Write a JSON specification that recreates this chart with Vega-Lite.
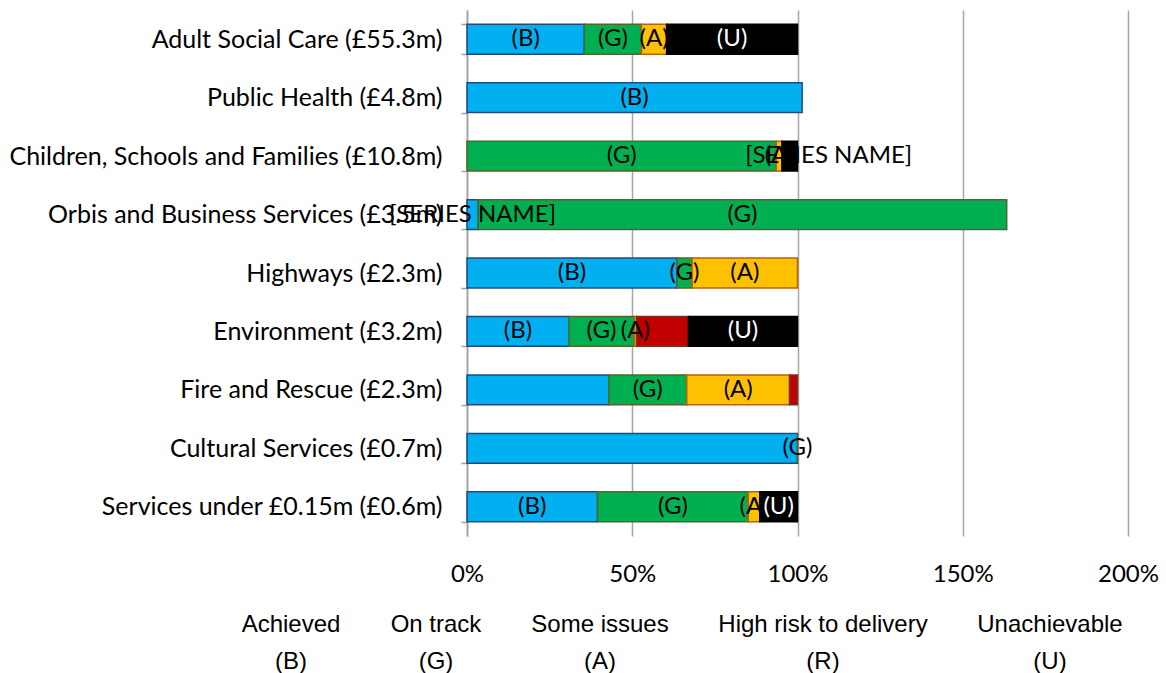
{
  "$schema": "https://vega.github.io/schema/vega-lite/v6.json",
  "autosize": {"type": "none"},
  "padding": {"left": 467, "top": 10, "right": 38, "bottom": 137},
  "width": 661,
  "height": 526,
  "background": "white",
  "config": {"view": {"stroke": null}},
  "data": {"values": [
    {"service": "Adult Social Care (£55.3m)", "status": "B", "pct": 35.5, "label": "(B)"},
    {"service": "Adult Social Care (£55.3m)", "status": "G", "pct": 17.3, "label": "(G)"},
    {"service": "Adult Social Care (£55.3m)", "status": "A", "pct": 7.6, "label": "(A)"},
    {"service": "Adult Social Care (£55.3m)", "status": "U", "pct": 39.6, "label": "(U)"},
    {"service": "Public Health (£4.8m)", "status": "B", "pct": 101.4, "label": "(B)"},
    {"service": "Children, Schools and Families (£10.8m)", "status": "G", "pct": 93.6, "label": "(G)"},
    {"service": "Children, Schools and Families (£10.8m)", "status": "A", "pct": 1.7, "label": "(A)"},
    {"service": "Children, Schools and Families (£10.8m)", "status": "U", "pct": 4.7, "label": "[SERIES NAME]"},
    {"service": "Orbis and Business Services (£3.5m)", "status": "B", "pct": 3.4, "label": "[SERIES NAME]"},
    {"service": "Orbis and Business Services (£3.5m)", "status": "G", "pct": 159.9, "label": "(G)"},
    {"service": "Highways (£2.3m)", "status": "B", "pct": 63.5, "label": "(B)"},
    {"service": "Highways (£2.3m)", "status": "G", "pct": 4.6, "label": "(G)"},
    {"service": "Highways (£2.3m)", "status": "A", "pct": 31.9, "label": "(A)"},
    {"service": "Environment (£3.2m)", "status": "B", "pct": 30.8, "label": "(B)"},
    {"service": "Environment (£3.2m)", "status": "G", "pct": 19.8, "label": "(G)"},
    {"service": "Environment (£3.2m)", "status": "A", "pct": 0.7, "label": "(A)"},
    {"service": "Environment (£3.2m)", "status": "R", "pct": 15.7, "label": ""},
    {"service": "Environment (£3.2m)", "status": "U", "pct": 33.0, "label": "(U)"},
    {"service": "Fire and Rescue (£2.3m)", "status": "B", "pct": 42.9, "label": ""},
    {"service": "Fire and Rescue (£2.3m)", "status": "G", "pct": 23.6, "label": "(G)"},
    {"service": "Fire and Rescue (£2.3m)", "status": "A", "pct": 31.1, "label": "(A)"},
    {"service": "Fire and Rescue (£2.3m)", "status": "R", "pct": 2.4, "label": ""},
    {"service": "Cultural Services (£0.7m)", "status": "B", "pct": 100.0, "label": ""},
    {"service": "Cultural Services (£0.7m)", "status": "G", "pct": 0.0, "label": "(G)"},
    {"service": "Services under £0.15m (£0.6m)", "status": "B", "pct": 39.5, "label": "(B)"},
    {"service": "Services under £0.15m (£0.6m)", "status": "G", "pct": 45.6, "label": "(G)"},
    {"service": "Services under £0.15m (£0.6m)", "status": "A", "pct": 3.5, "label": "(A)"},
    {"service": "Services under £0.15m (£0.6m)", "status": "U", "pct": 11.4, "label": "(U)"}
  ]},
  "transform": [
    {"calculate": "indexof(['B','G','A','R','U'], datum.status)", "as": "k"},
    {"stack": "pct", "groupby": ["service"], "sort": [{"field": "k", "order": "ascending"}], "as": ["x0", "x1"]},
    {"calculate": "(datum.x0 + datum.x1) / 2", "as": "xm"}
  ],
  "encoding": {
    "y": {
      "field": "service", "type": "nominal", "sort": null,
      "scale": {"paddingInner": 0.49, "paddingOuter": 0.245},
      "axis": {
        "title": null, "domainColor": "#A0A0A0", "domainWidth": 1.5,
        "tickColor": "#A0A0A0", "tickWidth": 1.5, "tickSize": 6, "tickBand": "extent",
        "labelFont": "Lato", "labelFontSize": 25, "labelColor": "#000000",
        "labelPadding": 19, "labelLimit": 600, "grid": false
      }
    }
  },
  "layer": [
    {
      "mark": {"type": "bar", "strokeWidth": 1.5},
      "encoding": {
        "x": {
          "field": "x0", "type": "quantitative",
          "scale": {"domain": [0, 200], "nice": false},
          "axis": {
            "title": null, "values": [0, 50, 100, 150, 200],
            "labelExpr": "datum.value + '%'",
            "grid": true, "gridColor": "#A6A6A6", "gridWidth": 1.5,
            "domain": false, "ticks": false, "labelFlush": false, "labelAlign": "center",
            "labelFont": "Lato", "labelFontSize": 24, "labelColor": "#000000",
            "labelPadding": 26
          }
        },
        "x2": {"field": "x1"},
        "color": {
          "field": "status", "type": "nominal",
          "scale": {"domain": ["B", "G", "A", "R", "U"], "range": ["#00B0F0", "#00B050", "#FFC000", "#C00000", "#000000"]},
          "legend": {
            "orient": "none", "legendX": -200, "legendY": 591,
            "direction": "horizontal", "title": null,
            "symbolSize": 0, "symbolOpacity": 0, "symbolStrokeWidth": 0,
            "labelOffset": 0, "labelAlign": "center", "labelBaseline": "top",
            "labelFont": "Liberation Sans", "labelFontSize": 24, "labelColor": "#000000",
            "labelLimit": 500, "columnPadding": 49, "padding": 0,
            "encode": {"labels": {"update": {"lineHeight": {"value": 37}}}},
            "labelExpr": "datum.label == 'B' ? ['Achieved', '(B)'] : datum.label == 'G' ? ['On track', '(G)'] : datum.label == 'A' ? ['Some issues', '(A)'] : datum.label == 'R' ? ['High risk to delivery', '(R)'] : ['Unachievable', '(U)']"
          }
        },
        "stroke": {
          "field": "status", "type": "nominal",
          "scale": {"domain": ["B", "G", "A", "R", "U"], "range": ["#254A7A", "#52662A", "#B8620C", "#7A3020", "#000000"]},
          "legend": null
        }
      }
    },
    {
      "transform": [{"filter": "datum.service != 'Children, Schools and Families (£10.8m)' || datum.status != 'U'"}],
      "mark": {"type": "text", "font": "Lato", "fontSize": 24, "baseline": "middle", "align": "center"},
      "encoding": {
        "x": {"field": "xm", "type": "quantitative"},
        "text": {"field": "label"},
        "color": {"condition": {"test": "datum.label == '(U)'", "value": "#FFFFFF"}, "value": "#000000"}
      }
    },
    {
      "transform": [{"filter": "datum.service == 'Children, Schools and Families (£10.8m)' && datum.status == 'U'"}],
      "mark": {"type": "text", "font": "Lato", "fontSize": 24, "baseline": "middle", "align": "center", "dx": 39, "color": "#000000"},
      "encoding": {
        "x": {"field": "xm", "type": "quantitative"},
        "text": {"field": "label"}
      }
    }
  ]
}
